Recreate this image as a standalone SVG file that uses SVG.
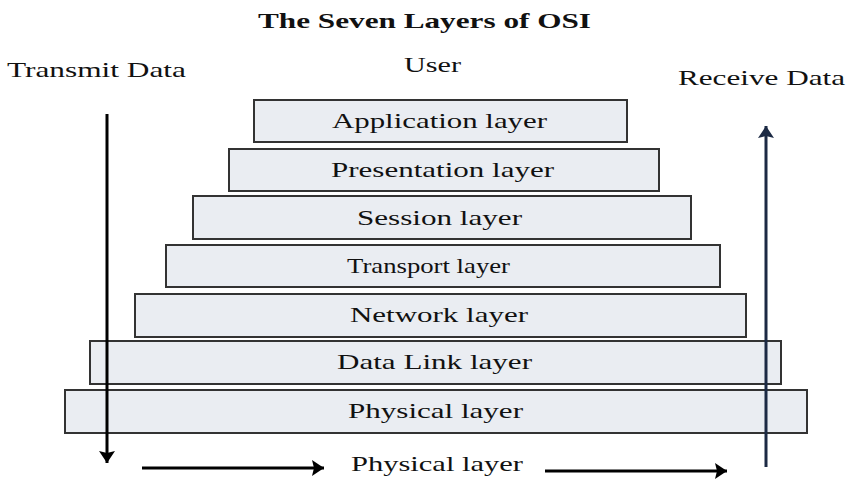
<svg xmlns="http://www.w3.org/2000/svg" width="850" height="479" viewBox="0 0 850 479">
<style>
.box{fill:#eaedf2;stroke:#333;stroke-width:2}
.t{font-family:"Liberation Serif","Times New Roman",serif;font-size:22px;fill:#111}
.s{font-size:21px}
.title{font-weight:bold;font-size:22px}
.arr{stroke:#000;stroke-width:3;fill:none}
.navy{stroke:#1c2a44}
</style>
<defs>
<marker id="ah" markerUnits="userSpaceOnUse" markerWidth="18" markerHeight="18" refX="12" refY="8" orient="auto">
<polygon points="0,0 12,8 0,16 2,8" fill="#000"/>
</marker>
<marker id="ahn" markerUnits="userSpaceOnUse" markerWidth="18" markerHeight="18" refX="12" refY="8" orient="auto">
<polygon points="0,0 12,8 0,16 2,8" fill="#1c2a44"/>
</marker>
</defs>
<rect width="850" height="479" fill="#fff"/>
<text class="t title" x="258" y="28" textLength="333" lengthAdjust="spacingAndGlyphs">The Seven Layers of OSI</text>
<text class="t s" x="7" y="77" textLength="179" lengthAdjust="spacingAndGlyphs">Transmit Data</text>
<text class="t s" x="404" y="72" textLength="57" lengthAdjust="spacingAndGlyphs">User</text>
<text class="t s" x="678" y="85" textLength="167" lengthAdjust="spacingAndGlyphs">Receive Data</text>
<g id="application">
<rect class="box" x="254" y="100" width="373" height="42"/>
<text class="t" x="332" y="128" textLength="215" lengthAdjust="spacingAndGlyphs">Application layer</text>
</g>
<g id="presentation">
<rect class="box" x="229" y="149" width="430" height="42"/>
<text class="t" x="331" y="177" textLength="223" lengthAdjust="spacingAndGlyphs">Presentation layer</text>
</g>
<g id="session">
<rect class="box" x="193" y="196" width="498" height="43"/>
<text class="t" x="357" y="225" textLength="165" lengthAdjust="spacingAndGlyphs">Session layer</text>
</g>
<g id="transport">
<rect class="box" x="166" y="245" width="554" height="42"/>
<text class="t" x="347" y="273" textLength="163" lengthAdjust="spacingAndGlyphs">Transport layer</text>
</g>
<g id="network">
<rect class="box" x="135" y="294" width="611" height="43"/>
<text class="t" x="350" y="322" textLength="178" lengthAdjust="spacingAndGlyphs">Network layer</text>
</g>
<g id="datalink">
<rect class="box" x="90" y="341" width="691" height="43"/>
<text class="t" x="337" y="369" textLength="195" lengthAdjust="spacingAndGlyphs">Data Link layer</text>
</g>
<g id="physical">
<rect class="box" x="65" y="390" width="742" height="43"/>
<text class="t" x="348" y="418" textLength="175" lengthAdjust="spacingAndGlyphs">Physical layer</text>
</g>
<g id="physical-medium">
<text class="t" x="351" y="471" textLength="172" lengthAdjust="spacingAndGlyphs">Physical layer</text>
</g>
<g id="connectors">
<line class="arr" x1="107" y1="114" x2="107" y2="463" marker-end="url(#ah)"/>
<line class="arr navy" x1="766" y1="467" x2="766" y2="126" marker-end="url(#ahn)"/>
<line class="arr" x1="142" y1="468" x2="324" y2="468" marker-end="url(#ah)"/>
<line class="arr" x1="545" y1="471" x2="727" y2="471" marker-end="url(#ah)"/>
</g>
</svg>
